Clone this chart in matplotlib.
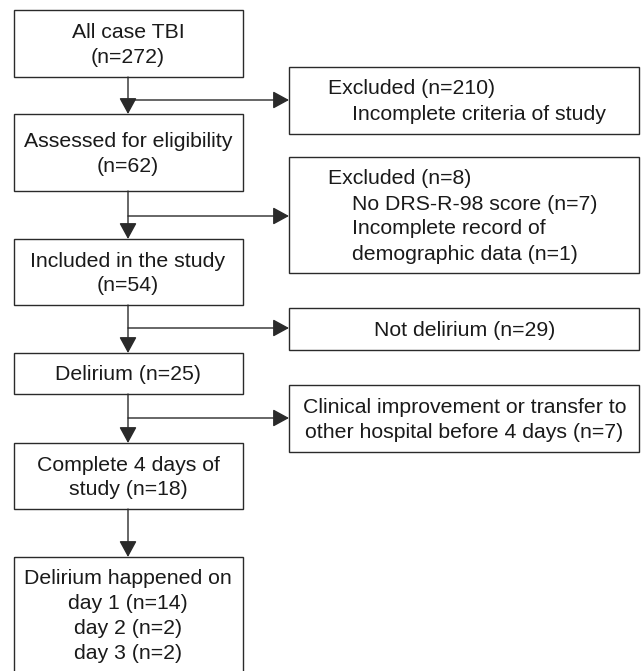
import matplotlib.pyplot as plt
from matplotlib.patches import Rectangle

plt.rcParams['font.family'] = ['Liberation Sans', 'DejaVu Sans']

# main flow (left column)
main_texts = [
    "All case TBI\n(n=272)",
    "Assessed for eligibility\n(n=62)",
    "Included in the study\n(n=54)",
    "Delirium (n=25)",
    "Complete 4 days of\nstudy (n=18)",
    "Delirium happened on\nday 1 (n=14)\nday 2 (n=2)\nday 3 (n=2)",
]
main_tops = [10, 114, 239, 353, 443, 557]
main_bottoms = [77, 191, 305, 394, 509, 690]

# side boxes (exclusions)
side_heads = ["Excluded (n=210)", "Excluded (n=8)", "", ""]
side_items = [
    ["Incomplete criteria of study"],
    ["No DRS-R-98 score (n=7)", "Incomplete record of", "demographic data (n=1)"],
    [],
    [],
]
side_center_texts = ["", "", "Not delirium (n=29)",
                     "Clinical improvement or transfer to\nother hospital before 4 days (n=7)"]
side_tops = [67, 157, 308, 385]
side_bottoms = [134, 273, 350, 452]
branch_y = [100, 216, 328, 418]

LX0, LX1 = 14, 243
RX0, RX1 = 289, 640
CX = 128
ec = "#2a2a2a"
tc = "#1a1a1a"
fs = 15.3
ls = 1.38

def main():
    fig = plt.figure(figsize=(6.41, 6.71), dpi=100)
    ax = fig.add_axes([0, 0, 1, 1])
    ax.set_xlim(0, 641)
    ax.set_ylim(671, 0)
    ax.axis("off")

    arrow = dict(arrowstyle="-|>,head_length=0.55,head_width=0.3",
                 color=ec, lw=1.0, shrinkA=0, shrinkB=0, mutation_scale=18)

    for txt, t, b in zip(main_texts, main_tops, main_bottoms):
        ax.add_patch(Rectangle((LX0, t), LX1 - LX0, b - t, fill=False, ec=ec, lw=1.0))
        if b > 671:
            ty = t + 59
        else:
            ty = (t + b) / 2 + 1.5
        ax.text(CX, ty, txt, ha="center", va="center", fontsize=fs,
                linespacing=ls, color=tc)

    for i in range(len(main_tops) - 1):
        ax.annotate("", xy=(CX, main_tops[i + 1]), xytext=(CX, main_bottoms[i]),
                    arrowprops=arrow)

    for k in range(len(side_tops)):
        t, b = side_tops[k], side_bottoms[k]
        ax.add_patch(Rectangle((RX0, t), RX1 - RX0 - 1, b - t, fill=False, ec=ec, lw=1.0))
        ax.annotate("", xy=(RX0, branch_y[k]), xytext=(CX, branch_y[k]),
                    arrowprops=arrow)
        if side_heads[k]:
            lines = [side_heads[k]] + side_items[k]
            y0 = t + 22
            for j, ln in enumerate(lines):
                x = 328 if j == 0 else 352
                ax.text(x, y0 + 25 * j, ln, ha="left", va="center",
                        fontsize=fs, color=tc)
        else:
            ax.text((RX0 + RX1) / 2, (t + b) / 2 + 1.5, side_center_texts[k],
                    ha="center", va="center", fontsize=fs, linespacing=ls,
                    color=tc)

    fig.savefig("out.png", dpi=100)

if __name__ == '__main__':
    main()
